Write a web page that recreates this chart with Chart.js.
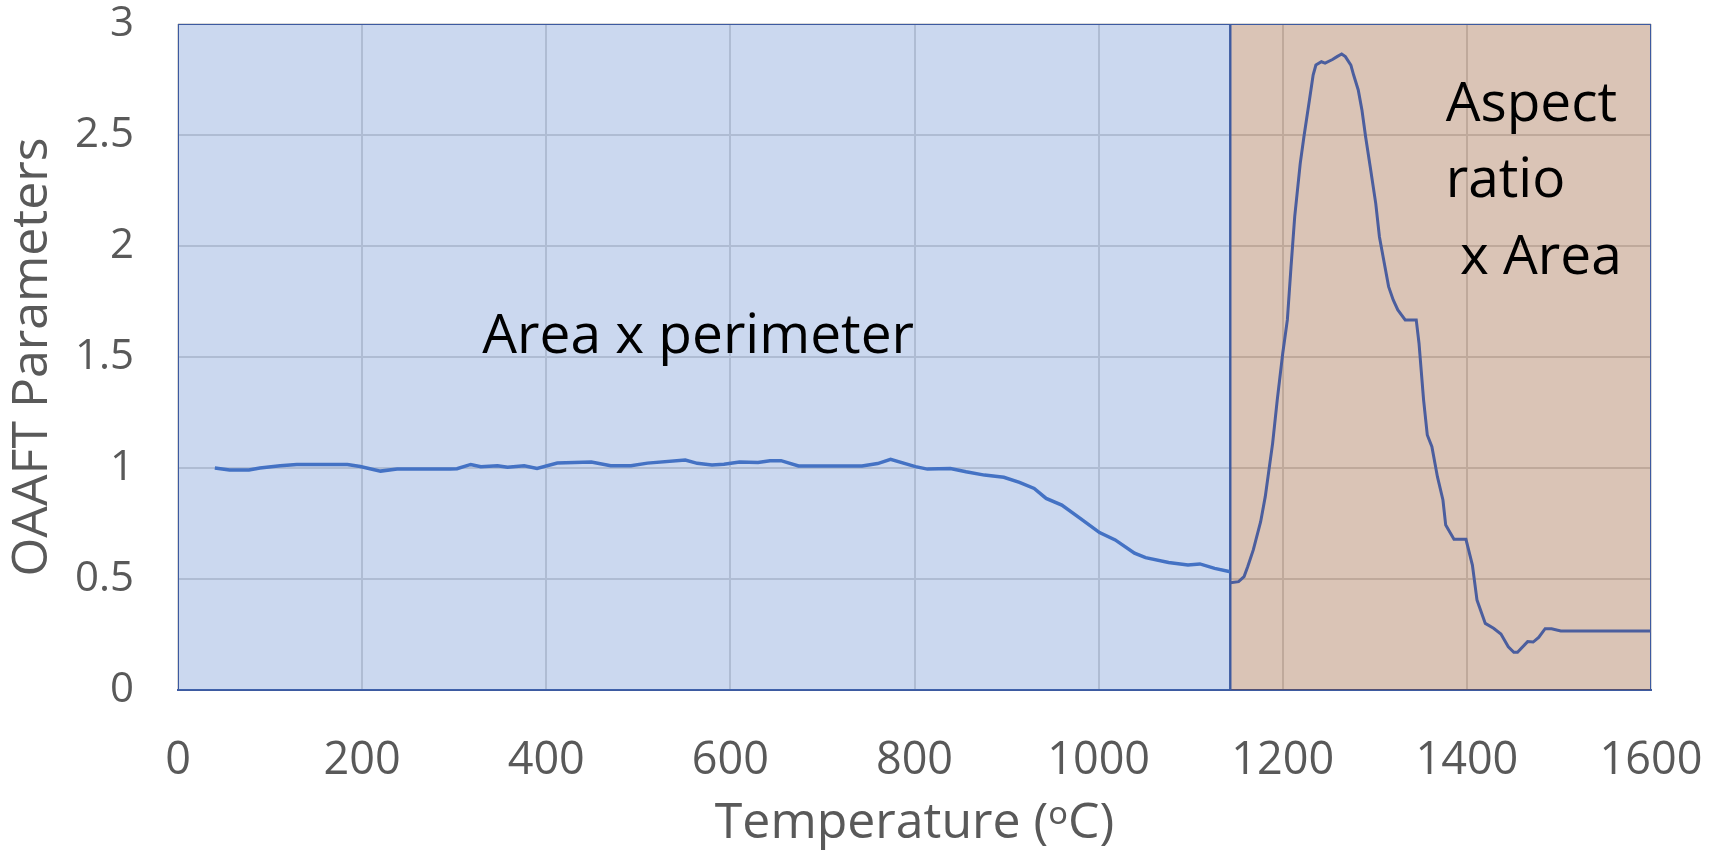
<!DOCTYPE html>
<html>
<head>
<meta charset="utf-8">
<script src="https://cdn.jsdelivr.net/npm/chart.js@4.4.1/dist/chart.umd.min.js"></script>
<style>
  html, body { margin: 0; padding: 0; background: #fff; }
  #wrap { width: 1715px; height: 854px; }
</style>
</head>
<body>
<div id="wrap"><canvas id="chart"></canvas></div>
<script>
// Area x perimeter (blue region)
const temps1 = [40, 56, 77, 89, 111, 129, 150, 184, 198, 220, 238, 270, 296, 303, 318, 329, 347, 358, 376, 390,
  412, 449, 470, 492, 510, 551, 564, 580, 593, 610, 630, 643, 655, 674, 743, 760, 774, 801, 814, 839,
  856, 876, 897, 914, 930, 943, 960, 980, 1001, 1018, 1039, 1051, 1076, 1097, 1110, 1126, 1143];
const vals1 = [1.0, 0.991, 0.991, 1.0, 1.01, 1.016, 1.016, 1.016, 1.007, 0.986, 0.995, 0.995, 0.995, 0.997, 1.016, 1.006, 1.01, 1.003, 1.01, 0.998,
  1.022, 1.027, 1.01, 1.01, 1.022, 1.036, 1.021, 1.014, 1.017, 1.027, 1.025, 1.033, 1.033, 1.009, 1.009, 1.02, 1.039, 1.006, 0.995, 0.998,
  0.983, 0.968, 0.958, 0.935, 0.908, 0.863, 0.833, 0.773, 0.709, 0.676, 0.616, 0.596, 0.574, 0.563, 0.568, 0.548, 0.533];

// Aspect ratio x Area (brown region)
const temps2 = [1143, 1152, 1158, 1162, 1168, 1176, 1181, 1185, 1189, 1194, 1200, 1205, 1209, 1213, 1219, 1223, 1229, 1233, 1236, 1242,
  1246, 1254, 1259, 1264, 1268, 1274, 1277, 1282, 1286, 1290, 1295, 1301, 1305, 1309, 1315, 1320, 1325, 1333, 1345, 1348,
  1353, 1357, 1362, 1368, 1374, 1377, 1386, 1399, 1406, 1411, 1420, 1429, 1437, 1445, 1451, 1455, 1466, 1472, 1478, 1485,
  1492, 1502, 1600];
const vals2 = [0.483, 0.488, 0.511, 0.556, 0.631, 0.758, 0.871, 0.991, 1.111, 1.306, 1.517, 1.667, 1.907, 2.132, 2.372, 2.492, 2.658, 2.77, 2.815, 2.83,
  2.824, 2.84, 2.853, 2.865, 2.853, 2.815, 2.77, 2.703, 2.613, 2.492, 2.357, 2.192, 2.042, 1.952, 1.817, 1.757, 1.712, 1.667, 1.667, 1.562,
  1.306, 1.149, 1.096, 0.961, 0.856, 0.743, 0.679, 0.679, 0.563, 0.405, 0.300, 0.278, 0.252, 0.195, 0.170, 0.170, 0.218, 0.216, 0.237, 0.276,
  0.276, 0.266, 0.266];

// region boundaries (temperature) and top of y axis
const regionEdges = [0, 1143, 1600];
const yMax = 3;

const notes = [
  { text: 'Area x perimeter', x: 565, y: 1.518, align: 'center' },
  { text: 'Aspect', x: 1377, y: 2.565, align: 'left' },
  { text: 'ratio', x: 1377, y: 2.22, align: 'left' },
  { text: ' x Area', x: 1377, y: 1.874, align: 'left' }
];

const toPts = (xs, ys) => xs.map((x, i) => ({ x: x, y: ys[i] }));
const band = (a, b) => [{ x: a, y: 0 }, { x: a, y: yMax }, { x: b, y: yMax }, { x: b, y: 0 }];

const FONT = '"Open Sans", "Noto Sans", sans-serif';
const edge = '#3D5AA0';

const notesPlugin = {
  id: 'notes',
  afterDatasetsDraw(chart) {
    const { ctx, scales } = chart;
    ctx.save();
    ctx.font = '55px ' + FONT;
    ctx.fillStyle = '#000';
    ctx.textBaseline = 'alphabetic';
    notes.forEach(n => {
      ctx.textAlign = n.align;
      ctx.fillText(n.text, scales.x.getPixelForValue(n.x), scales.y.getPixelForValue(n.y));
    });
    ctx.restore();
  }
};

new Chart(document.getElementById('chart'), {
  type: 'line',
  data: {
    datasets: [
      {
        data: toPts(temps1, vals1),
        borderColor: '#4472C4',
        borderWidth: 3.5,
        fill: false,
        order: 1
      },
      {
        data: toPts(temps2, vals2),
        borderColor: '#4B5E9E',
        borderWidth: 3,
        fill: false,
        order: 1
      },
      {
        data: band(regionEdges[0], regionEdges[1]),
        borderColor: edge,
        borderWidth: 2,
        backgroundColor: 'rgba(68,114,196,0.28)',
        fill: 'origin',
        order: 5
      },
      {
        data: band(regionEdges[1], regionEdges[2]),
        borderColor: edge,
        borderWidth: 2,
        backgroundColor: 'rgba(132,60,12,0.3)',
        fill: 'origin',
        order: 5
      }
    ]
  },
  options: {
    responsive: true,
    maintainAspectRatio: false,
    animation: false,
    layout: { padding: { top: 24, right: 64, left: 0, bottom: 0 } },
    elements: { point: { radius: 0 }, line: { tension: 0 } },
    plugins: { legend: { display: false }, tooltip: { enabled: false } },
    scales: {
      x: {
        type: 'linear',
        min: 0,
        max: 1600,
        ticks: {
          stepSize: 200,
          callback: v => String(v),
          font: { family: FONT, size: 45 },
          color: '#595959',
          padding: 44,
          maxRotation: 0,
          autoSkip: false
        },
        grid: { color: '#D9D9D9', lineWidth: 2, drawTicks: false },
        border: { display: true, color: edge, width: 2 },
        title: {
          display: true,
          text: 'Temperature (\u1D52C)',
          font: { family: FONT, size: 50 },
          color: '#595959',
          padding: { top: 7, bottom: 0 }
        },
        afterFit: s => { s.height = 164; s.paddingLeft = 0; s.paddingRight = 0; }
      },
      y: {
        min: 0,
        max: yMax,
        ticks: {
          stepSize: 0.5,
          callback: v => String(v),
          font: { family: FONT, size: 42 },
          color: '#595959',
          padding: 44
        },
        grid: { color: '#D9D9D9', lineWidth: 2, drawTicks: false },
        border: { display: false },
        title: {
          display: true,
          text: 'OAAFT Parameters',
          font: { family: FONT, size: 50 },
          color: '#595959',
          padding: { top: 3, bottom: 0 }
        },
        afterFit: s => { s.width = 178; s.paddingTop = 0; s.paddingBottom = 0; }
      }
    }
  },
  plugins: [notesPlugin]
});
</script>
</body>
</html>
